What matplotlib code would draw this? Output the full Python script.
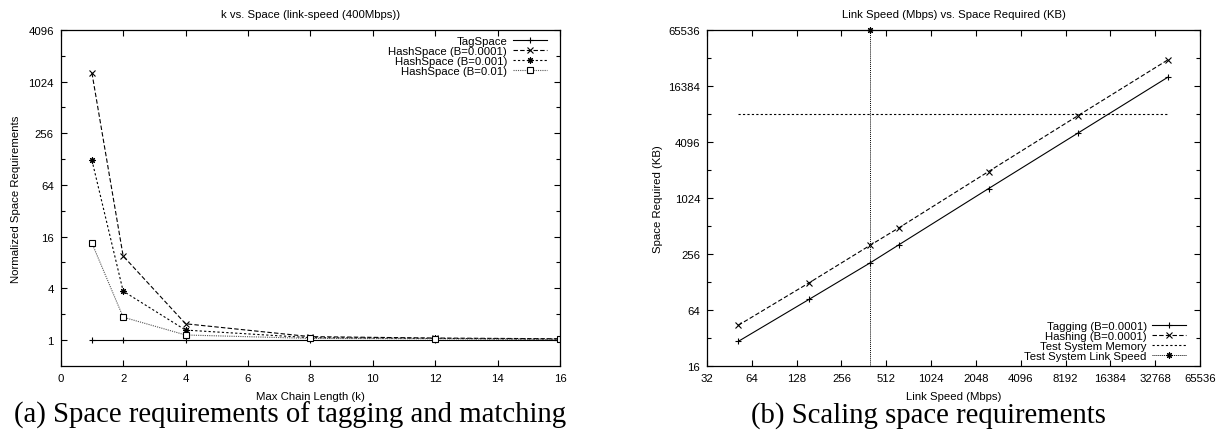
import matplotlib
matplotlib.use("Agg")
import matplotlib.pyplot as plt
from matplotlib.ticker import NullFormatter, NullLocator

plt.rcParams["font.family"] = ["Liberation Sans", "DejaVu Sans"]
plt.rcParams["font.size"] = 8.2

# (a) chain length vs normalized space
chain_k = [1, 2, 4, 8, 12, 16]
tag_space = [1, 1, 1, 1, 1, 1]
hash_b0001 = [1290, 9.5, 1.54, 1.09, 1.05, 1.03]
hash_b001 = [124, 3.7, 1.3, 1.06, 1.04, 1.02]
hash_b01 = [13.4, 1.84, 1.14, 1.04, 1.03, 1.01]

# (b) link speed vs space
link_speed = [51.84, 155.52, 400, 622.08, 2488.32, 9953.28, 39813.12]
tagging_kb = [29.2, 83, 205, 320, 1287, 5110, 20300]
hashing_kb = [43.5, 125, 317, 487, 1964, 7860, 31200]
mem_speed = [51.84, 39813.12]
mem_kb = [8192, 8192]
test_speed = [400, 400]
test_kb = [16, 65536]

ytick_a = [1, 4, 16, 64, 256, 1024, 4096]
xtick_b = [32, 64, 128, 256, 512, 1024, 2048, 4096, 8192, 16384, 32768, 65536]
ytick_b = [16, 64, 256, 1024, 4096, 16384, 65536]

fig = plt.figure(figsize=(12.22, 4.31), dpi=100)
ax1 = fig.add_axes([0.0497, 0.1492, 0.4086, 0.779])
ax2 = fig.add_axes([0.5786, 0.1492, 0.4034, 0.779])

lw = 0.8
ax1.plot(chain_k, tag_space, color="black", lw=lw, marker="+", ms=4.5, mew=0.8,
         label="TagSpace")
ax1.plot(chain_k, hash_b0001, color="black", lw=lw, ls=(0, (4, 2)), marker="x",
         ms=4, mew=0.8, label="HashSpace (B=0.0001)")
ax1.plot(chain_k, hash_b001, color="black", lw=lw, ls=(0, (2, 2)), marker=(8, 2, 0),
         ms=4.5, mew=0.8, label="HashSpace (B=0.001)")
ax1.plot(chain_k, hash_b01, color="#555555", lw=lw, ls=(0, (1, 1)), marker="s",
         ms=3.8, mew=0.8, mfc="white", mec="black", label="HashSpace (B=0.01)")

ax1.set_yscale("log", base=2)
ax1.set_xlim(0, 16)
ax1.set_ylim(0.5, 4096)
ax1.set_xticks(range(0, 17, 2))
ax1.set_yticks(ytick_a)
ax1.set_yticklabels([str(v) for v in ytick_a])
ax1.set_yticks([2, 8, 32, 128, 512, 2048], minor=True)
ax1.yaxis.set_minor_formatter(NullFormatter())
ax1.set_xlabel("Max Chain Length (k)", labelpad=6)
ax1.set_ylabel("Normalized Space Requirements", labelpad=5)
ax1.set_title("k vs. Space (link-speed (400Mbps))", fontsize=8.2, pad=9)
ax1.legend(loc="upper right", bbox_to_anchor=(0.974, 0.982), frameon=False,
           markerfirst=False, handlelength=3.0, labelspacing=0.0,
           borderaxespad=0, borderpad=0, handletextpad=0.5)

ax2.plot(link_speed, tagging_kb, color="black", lw=lw, marker="+", ms=4.5, mew=0.8,
         label="Tagging (B=0.0001)")
ax2.plot(link_speed, hashing_kb, color="black", lw=lw, ls=(0, (4, 2)), marker="x",
         ms=4, mew=0.8, label="Hashing (B=0.0001)")
ax2.plot(mem_speed, mem_kb, color="black", lw=lw, ls=(0, (2, 2)),
         label="Test System Memory")
ax2.plot(test_speed, test_kb, color="black", lw=0.7, ls=(0, (1, 1)), marker=(8, 2, 0),
         ms=4.5, mew=0.8, markevery=[1], label="Test System Link Speed", clip_on=False)

ax2.set_xscale("log", base=2)
ax2.set_yscale("log", base=2)
ax2.set_xlim(32, 65536)
ax2.set_ylim(16, 65536)
ax2.set_xticks(xtick_b)
ax2.set_xticklabels([str(v) for v in xtick_b])
ax2.xaxis.set_minor_locator(NullLocator())
ax2.set_yticks(ytick_b)
ax2.set_yticklabels([str(v) for v in ytick_b])
ax2.set_yticks([32, 128, 512, 2048, 8192, 32768], minor=True)
ax2.yaxis.set_minor_formatter(NullFormatter())
ax2.set_xlabel("Link Speed (Mbps)", labelpad=6)
ax2.set_ylabel("Space Required (KB)", labelpad=4)
ax2.set_title("Link Speed (Mbps) vs. Space Required (KB)", fontsize=8.2, pad=9)
ax2.legend(loc="lower right", bbox_to_anchor=(0.9726, 0.014), frameon=False,
           markerfirst=False, handlelength=3.0, labelspacing=0.0,
           borderaxespad=0, borderpad=0, handletextpad=0.5)

for ax in (ax1, ax2):
    ax.tick_params(which="both", direction="in", top=True, right=True, width=0.8)
    ax.tick_params(which="major", length=4, pad=5)
    ax.tick_params(which="minor", length=3)
    for s in ax.spines.values():
        s.set_linewidth(0.9)

fig.text(0.237, 0.037, "(a) Space requirements of tagging and matching",
         ha="center", va="center", fontsize=20.7, family="Liberation Serif")
fig.text(0.760, 0.037, "(b) Scaling space requirements",
         ha="center", va="center", fontsize=20.7, family="Liberation Serif")

fig.savefig("out.png", dpi=100)
